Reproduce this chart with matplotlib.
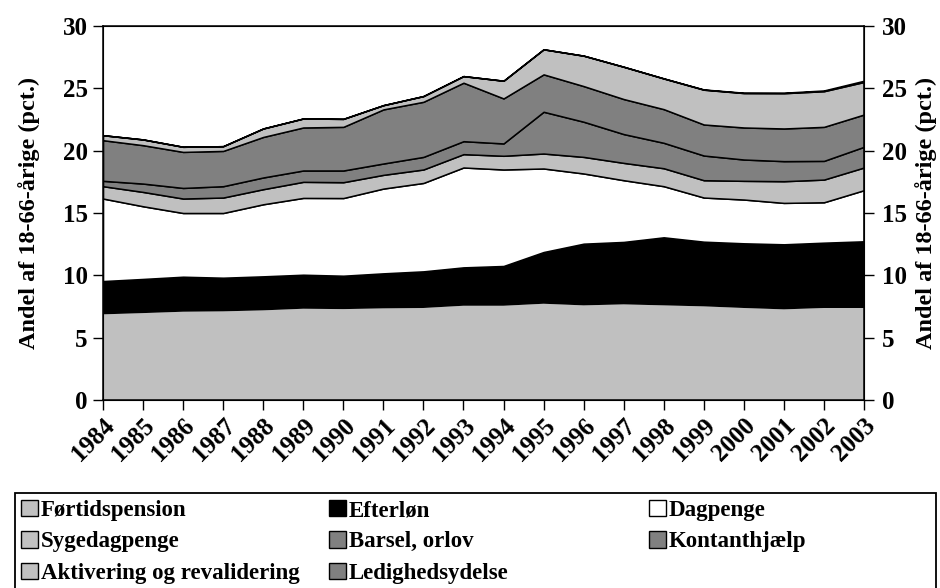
import numpy as np
import matplotlib
matplotlib.use("Agg")
import matplotlib.pyplot as plt
from matplotlib.patches import Patch, Rectangle

plt.rcParams['font.family'] = ['Liberation Serif', 'DejaVu Serif']
plt.rcParams['font.weight'] = 'bold'

years = list(range(1984, 2004))

fortidspension = [6.87, 6.97, 7.08, 7.11, 7.19, 7.32, 7.29, 7.35, 7.38, 7.56,
                  7.56, 7.72, 7.59, 7.67, 7.59, 7.51, 7.38, 7.27, 7.38, 7.38]
efterlon = [2.67, 2.74, 2.81, 2.70, 2.73, 2.73, 2.68, 2.81, 2.94, 3.08,
            3.19, 4.15, 4.95, 5.01, 5.46, 5.19, 5.19, 5.22, 5.24, 5.35]
dagpenge = [6.62, 5.83, 5.11, 5.19, 5.78, 6.16, 6.23, 6.80, 7.09, 8.01,
            7.74, 6.70, 5.63, 4.95, 4.10, 3.54, 3.51, 3.32, 3.24, 4.10]
sygedagpenge = [0.99, 1.15, 1.16, 1.24, 1.21, 1.29, 1.27, 1.10, 1.08, 1.07,
                1.10, 1.20, 1.33, 1.39, 1.44, 1.39, 1.50, 1.74, 1.82, 1.82]
barsel = [0.43, 0.67, 0.85, 0.91, 0.94, 0.91, 0.94, 0.91, 1.01, 1.04,
          0.99, 3.35, 2.82, 2.31, 2.04, 1.98, 1.71, 1.61, 1.50, 1.66]
kontanthjaelp = [3.26, 3.08, 2.89, 2.83, 3.25, 3.45, 3.50, 4.34, 4.42, 4.69,
                 3.61, 3.00, 2.86, 2.81, 2.70, 2.49, 2.57, 2.62, 2.73, 2.59]
aktivering = [0.40, 0.46, 0.41, 0.38, 0.68, 0.72, 0.64, 0.34, 0.46, 0.53,
              1.42, 2.01, 2.44, 2.59, 2.46, 2.79, 2.76, 2.83, 2.86, 2.61]
ledighedsydelse = [0, 0, 0, 0, 0, 0, 0, 0, 0, 0,
                   0, 0, 0, 0, 0.01, 0.02, 0.03, 0.04, 0.06, 0.10]

labels = ["Førtidspension", "Efterløn", "Dagpenge", "Sygedagpenge",
          "Barsel, orlov", "Kontanthjælp", "Aktivering og revalidering",
          "Ledighedsydelse"]
series = [fortidspension, efterlon, dagpenge, sygedagpenge, barsel,
          kontanthjaelp, aktivering, ledighedsydelse]
colors = ["#c0c0c0", "#000000", "#ffffff", "#c0c0c0",
          "#808080", "#808080", "#c0c0c0", "#808080"]

fig = plt.figure(figsize=(9.4, 5.88), dpi=100)
ax = fig.add_axes([103/940, 1-400/588, (864-103)/940, (400-26)/588])

polys = ax.stackplot(years, *series, colors=colors, linewidth=1.1,
                     edgecolor='black')
polys[0].set_edgecolor('none')
polys[1].set_edgecolor('none')

ax.set_xlim(1984, 2003)
ax.set_ylim(0, 30)
ax.set_xticks(years)
ax.set_xticklabels([str(y) for y in years], rotation=45, ha='right',
                   rotation_mode='anchor', fontsize=18, fontweight='bold')
ax.set_yticks(range(0, 31, 5))
ax.tick_params(axis='y', labelsize=18, length=7, width=1, pad=4)
ax.tick_params(axis='x', length=7, width=1, pad=3)
for s in ax.spines.values():
    s.set_linewidth(1.1)
ax.set_ylabel("Andel af 18-66-årige (pct.)", fontsize=17.5, fontweight='bold',
              labelpad=16)

ax2 = ax.twinx()
ax2.set_ylim(0, 30)
ax2.set_yticks(range(0, 31, 5))
ax2.tick_params(axis='y', labelsize=18, length=7, width=1, pad=6)
ax2.set_ylabel("Andel af 18-66-årige (pct.)", fontsize=17.5, fontweight='bold',
               rotation=90, labelpad=6)
for lbl in ax.get_yticklabels() + ax2.get_yticklabels():
    lbl.set_fontweight('bold')

handles = [Patch(facecolor=c, edgecolor='black', linewidth=1) for c in colors]
col_x = [21, 329, 649]
cols = [[0, 3, 6], [1, 4, 7], [2, 5]]
for cx, idx in zip(col_x, cols):
    fig.legend([handles[i] for i in idx], [labels[i] for i in idx],
               loc='upper left', bbox_to_anchor=(cx/940, 1-500/588),
               frameon=False, borderpad=0, borderaxespad=0,
               handlelength=0.72, handleheight=0.72, handletextpad=0.15,
               labelspacing=0.44, prop={'weight': 'bold', 'size': 16.5})

fig.add_artist(Rectangle((15/940, -0.02), (936-15)/940, (588-493)/588 + 0.02,
                         transform=fig.transFigure, fill=False,
                         edgecolor='black', linewidth=1.3))

fig.savefig("out.png", dpi=100)
